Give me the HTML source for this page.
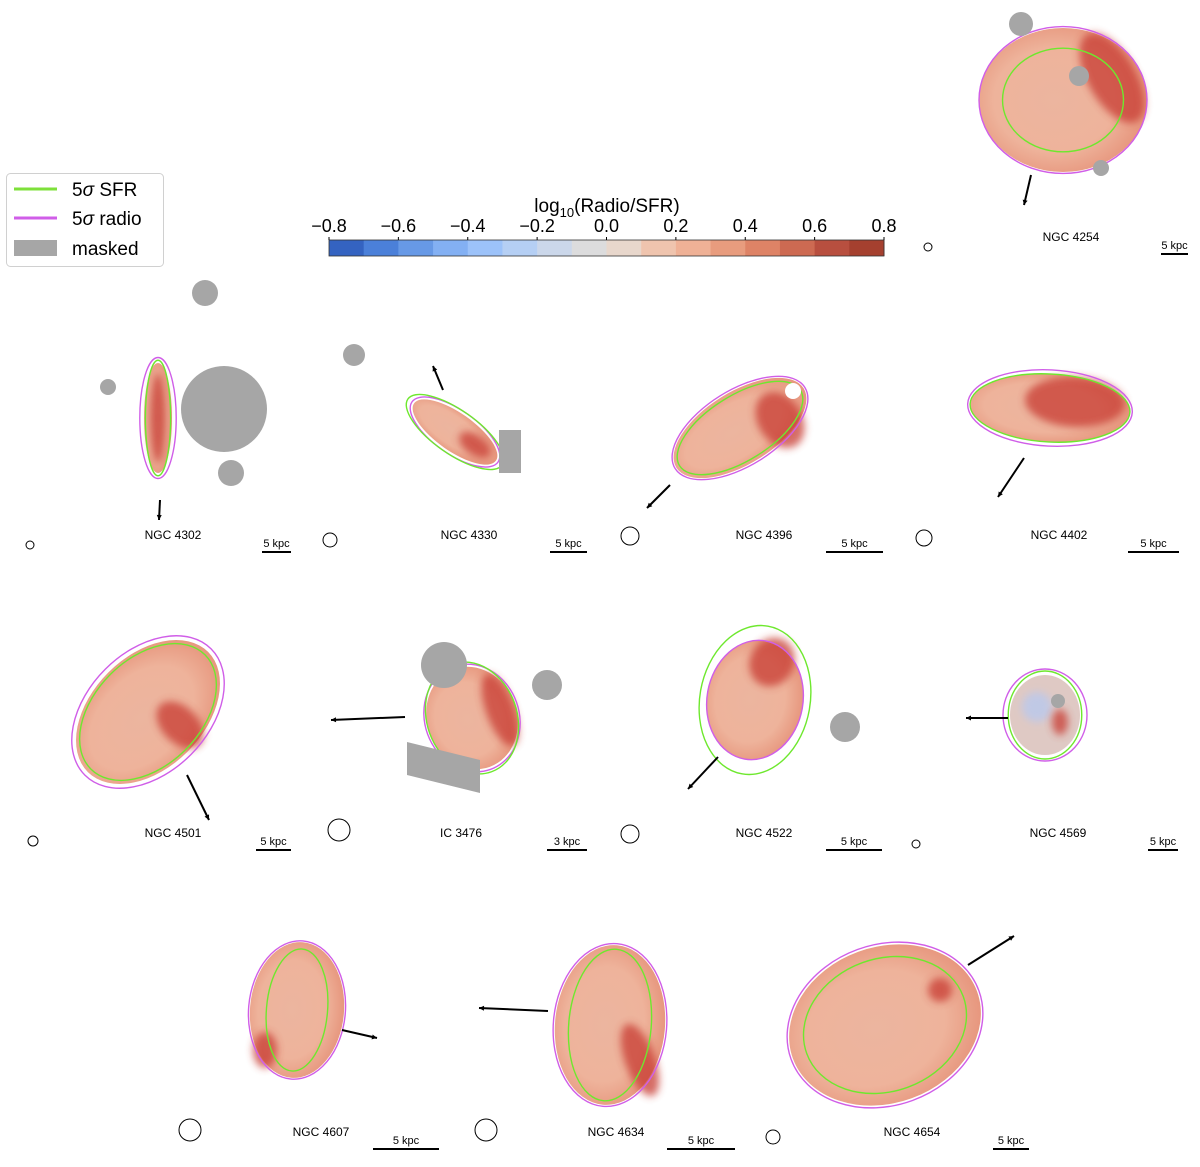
<!DOCTYPE html>
<html><head><meta charset="utf-8"><style>
html,body{margin:0;padding:0;background:#fff;width:1200px;height:1167px;overflow:hidden}
svg{display:block;font-family:"Liberation Sans","DejaVu Sans",sans-serif}
</style></head><body>
<svg id="fig" width="1200" height="1167" viewBox="0 0 1200 1167">
<defs>
<radialGradient id="gBase" cx="0.45" cy="0.5" r="0.6">
<stop offset="0" stop-color="#ecb59f"/><stop offset="0.6" stop-color="#eeb39b"/><stop offset="1" stop-color="#e58f76"/>
</radialGradient>
<filter id="blur" x="-50%" y="-50%" width="200%" height="200%"><feGaussianBlur stdDeviation="4"/></filter>
</defs>
<g>
<rect x="6.5" y="173.5" width="157" height="93" rx="4" fill="#fff" stroke="#d0d0d0"/>
<line x1="14" y1="189" x2="57" y2="189" stroke="#7ee03a" stroke-width="3"/>
<text x="72" y="196" font-size="19">5<tspan font-style="italic">σ</tspan> SFR</text>
<line x1="14" y1="218" x2="57" y2="218" stroke="#d05ee8" stroke-width="3"/>
<text x="72" y="225" font-size="19">5<tspan font-style="italic">σ</tspan> radio</text>
<rect x="14" y="240" width="43" height="16" fill="#a6a6a6"/>
<text x="72" y="255" font-size="19">masked</text>
</g>
<g id="cbar"></g>
<g id="gal"></g>
</svg>
<script>
const cbTicks=[-0.8,-0.6,-0.4,-0.2,0.0,0.2,0.4,0.6,0.8];
const cbTickLabels=["−0.8","−0.6","−0.4","−0.2","0.0","0.2","0.4","0.6","0.8"];
const cbColors=["#3463c1","#4b80d9","#6799e6","#83b0f3","#9cc2f9","#b5cff4","#cbd7ea","#dcdcdd","#e8d7cc","#efc4ae","#efb196","#e89c7e","#de8366","#cd6a52","#b84f3f","#a5402f"];
const NS="http://www.w3.org/2000/svg";
function mk(tag,attrs,parent){const e=document.createElementNS(NS,tag);for(const k in attrs)e.setAttribute(k,attrs[k]);parent.appendChild(e);return e;}
const cb=document.getElementById('cbar');
const cx0=329,cx1=884,cy0=240,cy1=256;
const xs=v=>cx0+(v+0.8)/1.6*(cx1-cx0);
cbColors.forEach((c,i)=>{const w=(cx1-cx0)/cbColors.length;
const r=mk('rect',{x:cx0+i*w,y:cy0,width:w+0.5,height:cy1-cy0,fill:c},cb);

});
mk('rect',{x:cx0,y:cy0,width:cx1-cx0,height:cy1-cy0,fill:'none',stroke:'#333','stroke-width':0.8},cb);
cbTicks.forEach((v,i)=>{mk('line',{x1:xs(v),x2:xs(v),y1:cy0-3,y2:cy0,stroke:'#000'},cb);
const t=mk('text',{x:xs(v),y:232,'font-size':18,'text-anchor':'middle'},cb);t.textContent=cbTickLabels[i];

});
const ttl=mk('text',{x:607,y:212,'font-size':19,'text-anchor':'middle'},cb);
ttl.innerHTML='log<tspan font-size="13" dy="5">10</tspan><tspan dy="-5">(Radio/SFR)</tspan>';



const gals=[
{n:"NGC 4254",c:[1063,100],r:[84,72],rot:0,dark:[1112,78,24,50,-30],lab:[1071,241],sb:[1161,1188,254,"5 kpc"],beam:[928,247,4],ar:[1031,175,1024,205],m:[[1021,24,12],[1079,76,10],[1101,168,8]],sf:[0.72,0.72,0],ra:[1.0,1.02,0]},
{n:"NGC 4302",c:[158,418],r:[14,55],rot:0,dark:[158,418,8,45,0],lab:[173,539],sb:[262,291,552,"5 kpc"],beam:[30,545,4],ar:[160,500,159,520],m:[[205,293,13],[224,409,43],[231,473,13],[108,387,8]],sf:[0.9,1.05,0],ra:[1.3,1.1,0]},
{n:"NGC 4330",c:[455,432],r:[50,19],rot:35,dark:[475,445,18,10,35],lab:[469,539],sb:[550,587,552,"5 kpc"],beam:[330,540,7],ar:[443,390,433,366],m:[[354,355,11]],rect:[499,430,22,43],sf:[1.15,1.15,0],ra:[1.05,1.15,0]},
{n:"NGC 4396",c:[740,428],r:[75,36],rot:-32,dark:[780,420,22,30,-32],lab:[764,539],sb:[826,883,552,"5 kpc"],beam:[630,536,9],ar:[670,485,647,508],m:[],hole:[793,391,8],sf:[0.95,0.9,0],ra:[1.02,1.05,0]},
{n:"NGC 4402",c:[1050,408],r:[80,34],rot:3,dark:[1075,402,50,25,3],lab:[1059,539],sb:[1128,1179,552,"5 kpc"],beam:[924,538,8],ar:[1024,458,998,497],m:[],sf:[1.0,1.0,0],ra:[1.03,1.12,0]},
{n:"NGC 4501",c:[148,712],r:[85,56],rot:-45,dark:[180,725,18,28,-45],lab:[173,837],sb:[256,291,850,"5 kpc"],beam:[33,841,5],ar:[187,775,209,820],m:[],sf:[0.95,0.95,0],ra:[1.05,1.08,0]},
{n:"IC 3476",c:[472,718],r:[45,52],rot:-20,dark:[500,710,14,38,-20],lab:[461,837],sb:[547,587,850,"3 kpc"],beam:[339,830,11],ar:[405,717,331,720],m:[[444,665,23],[547,685,15]],poly:"407,742 480,760 480,793 407,775",sf:[1.0,1.1,0],ra:[1.05,1.05,0]},
{n:"NGC 4522",c:[755,700],r:[48,60],rot:10,dark:[772,662,22,25,30],lab:[764,837],sb:[826,882,850,"5 kpc"],beam:[630,834,9],ar:[718,757,688,789],m:[[845,727,15]],sf:[1.15,1.25,0],ra:[1.0,1.0,0]},
{n:"NGC 4569",c:[1045,715],r:[35,40],rot:0,dark:[1060,722,8,13,0],lab:[1058,837],sb:[1148,1178,850,"5 kpc"],beam:[916,844,4],ar:[1008,718,966,718],m:[[1058,701,7]],sf:[1.05,1.1,0],ra:[1.2,1.15,0],blue:1},
{n:"NGC 4607",c:[297,1010],r:[47,68],rot:5,dark:[265,1050,12,18,0],lab:[321,1136],sb:[373,439,1149,"5 kpc"],beam:[190,1130,11],ar:[342,1030,377,1038],m:[],sf:[0.65,0.9,0],ra:[1.03,1.02,0]},
{n:"NGC 4634",c:[610,1025],r:[55,80],rot:5,dark:[640,1060,15,38,-20],lab:[616,1136],sb:[667,735,1149,"5 kpc"],beam:[486,1130,11],ar:[548,1011,479,1008],m:[],sf:[0.75,0.95,0],ra:[1.03,1.02,0]},
{n:"NGC 4654",c:[885,1025],r:[98,78],rot:-20,dark:[940,990,12,12,0],lab:[912,1136],sb:[993,1029,1149,"5 kpc"],beam:[773,1137,7],ar:[968,965,1014,936],m:[],sf:[0.85,0.85,0],ra:[1.02,1.03,0]}
];
const G=document.getElementById('gal');
gals.forEach(g=>{
 const grp=mk('g',{},G);
 
 
 const tr=`rotate(${g.rot} ${g.c[0]} ${g.c[1]})`;
 const map=mk('ellipse',{cx:g.c[0],cy:g.c[1],rx:g.r[0],ry:g.r[1],fill:g.blue?'#dfc9c4':'url(#gBase)',transform:tr},grp);
 
 
 if(g.blue){mk('ellipse',{cx:g.c[0]-8,cy:g.c[1]-8,rx:15,ry:15,fill:'#b9c9ee',opacity:0.8,filter:'url(#blur)'},grp);}
 const d=g.dark;
 const dk=mk('ellipse',{cx:d[0],cy:d[1],rx:d[2],ry:d[3],fill:'#c83a32',opacity:0.75,filter:'url(#blur)',transform:`rotate(${d[4]} ${d[0]} ${d[1]})`},grp);
 
 
 const rc=mk('ellipse',{cx:g.c[0],cy:g.c[1],rx:g.r[0]*g.ra[0],ry:g.r[1]*g.ra[1],fill:'none',stroke:'#d05ee8','stroke-width':1.4,transform:tr},grp);
 
 
 const sc=mk('ellipse',{cx:g.c[0],cy:g.c[1],rx:g.r[0]*g.sf[0],ry:g.r[1]*g.sf[1],fill:'none',stroke:'#6ee82e','stroke-width':1.4,transform:tr},grp);
 
 
 g.m.forEach(m=>{const c=mk('circle',{cx:m[0],cy:m[1],r:m[2],fill:'#a6a6a6'},grp);
  
  });
 if(g.rect){const r=mk('rect',{x:g.rect[0],y:g.rect[1],width:g.rect[2],height:g.rect[3],fill:'#a6a6a6'},grp);
  
  }
 if(g.poly){const p=mk('polygon',{points:g.poly,fill:'#a6a6a6'},grp);
  
  }
 if(g.hole){mk('circle',{cx:g.hole[0],cy:g.hole[1],r:g.hole[2],fill:'#fff'},grp);}
 const a=g.ar;const ang=Math.atan2(a[3]-a[1],a[2]-a[0]);
 const ar=mk('g',{},grp);
 
 
 mk('line',{x1:a[0],y1:a[1],x2:a[2],y2:a[3],stroke:'#000','stroke-width':2},ar);
 const h=5,px=a[2],py=a[3];
 mk('polygon',{points:`${px},${py} ${px-h*Math.cos(ang)+2.5*Math.sin(ang)},${py-h*Math.sin(ang)-2.5*Math.cos(ang)} ${px-h*Math.cos(ang)-2.5*Math.sin(ang)},${py-h*Math.sin(ang)+2.5*Math.cos(ang)}`,fill:'#000'},ar);
 const lb=mk('text',{x:g.lab[0],y:g.lab[1],'font-size':12,'text-anchor':'middle'},grp);lb.textContent=g.n;
 
 
 const s=g.sb;
 const sb=mk('line',{x1:s[0],x2:s[1],y1:s[2],y2:s[2],stroke:'#000','stroke-width':2},grp);
 
 
 const st=mk('text',{x:(s[0]+s[1])/2,y:s[2]-5,'font-size':11,'text-anchor':'middle'},grp);st.textContent=s[3];
 
 
 const bm=mk('circle',{cx:g.beam[0],cy:g.beam[1],r:g.beam[2],fill:'none',stroke:'#000','stroke-width':1},grp);
 
 
});
</script>
</body></html>
